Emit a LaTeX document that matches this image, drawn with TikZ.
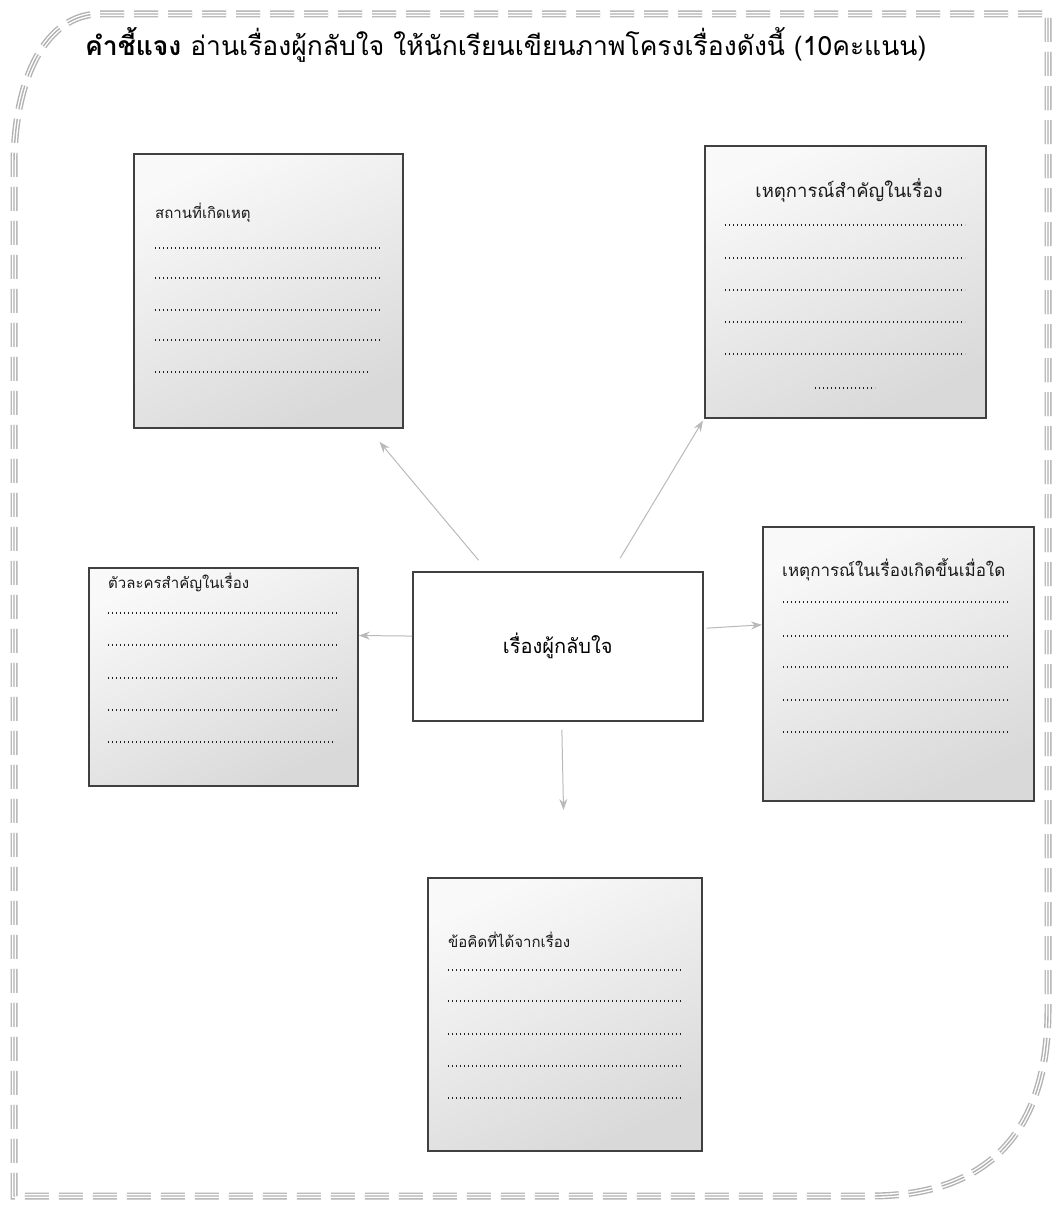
\documentclass[tikz,border=0pt]{standalone}
\usepackage{fontspec}
\setmainfont[Script=Thai]{Loma}
\usetikzlibrary{arrows.meta,positioning}
\tikzset{
  card/.style={draw=gray!50!black, line width=1.8pt, inner sep=0pt, anchor=north west,
    top color=gray!5, bottom color=gray!30, shading angle=25},
  hub/.style={draw=gray!50!black, line width=1.5pt, inner sep=0pt, anchor=north west, fill=white},
  dotrow/.style={line width=1.5pt, dash pattern=on 1.4pt off 2.6pt, gray!25!black},
  link/.style={draw=gray!55, line width=1pt, -{Stealth[length=11pt,width=8pt]}},
  rimout/.style={line width=7pt, gray!60, dash pattern=on 24pt off 10pt},
  rimgap/.style={line width=4.2pt, white, dash pattern=on 24pt off 10pt},
  rimmid/.style={line width=1.4pt, gray!60, dash pattern=on 24pt off 10pt},
  cardtitle/.style={anchor=west, inner sep=0pt, text=gray!20!black}
}
\begin{document}
\begin{tikzpicture}[x=1pt,y=-1pt]
\useasboundingbox (0,0) rectangle (1058,1207);
% dashed frame
\foreach \s in {rimout,rimgap,rimmid}
  \draw[\s] (100,14) -- (1048,14) -- (1048,1010) .. controls (1048,1140) and (980,1196) .. (870,1196)
    -- (14,1196) -- (14,165) .. controls (14,80) and (45,14) .. (100,14);
% heading
\node[anchor=west, inner sep=0pt] (heading) at (85,45)
  {\fontsize{26.5}{30}\selectfont\textbf{คำชี้แจง} อ่านเรื่องผู้กลับใจ ให้นักเรียนเขียนภาพโครงเรื่องดังนี้ (10คะแนน)};
% boxes
\node[card, minimum width=269pt, minimum height=274pt] (place) at (133,153) {};
\node[card, minimum width=281pt, minimum height=272pt] (events) at (704,145) {};
\node[card, minimum width=269pt, minimum height=218pt] (chars) at (88,567) {};
\node[card, minimum width=271pt, minimum height=274pt] (when) at (762,526) {};
\node[card, minimum width=274pt, minimum height=273pt] (moral) at (427,877) {};
\node[hub, minimum width=290pt, minimum height=149pt] (centre) at (412,571) {};
\node (story) at (centre.center) {\fontsize{20}{24}\selectfont เรื่องผู้กลับใจ};
% titles
\node[cardtitle] (placetitle) at (155,213) {\fontsize{15}{18}\selectfont สถานที่เกิดเหตุ};
\node[cardtitle, anchor=center] (eventstitle) at (849,190) {\fontsize{18.5}{22}\selectfont เหตุการณ์สำคัญในเรื่อง};
\node[cardtitle] (charstitle) at (108,582) {\fontsize{15}{18}\selectfont ตัวละครสำคัญในเรื่อง};
\node[cardtitle] (whentitle) at (782,570) {\fontsize{17}{20}\selectfont เหตุการณ์ในเรื่องเกิดขึ้นเมื่อใด};
\node[cardtitle] (moraltitle) at (448,940) {\fontsize{15}{18}\selectfont ข้อคิดที่ได้จากเรื่อง};
% dotted lines
\foreach \y in {248,278,310,340} \draw[dotrow] (155,\y) -- (380,\y);
\draw[dotrow] (155,372) -- (370,372);
\foreach \y in {225,258,290,322,354} \draw[dotrow] (725,\y) -- (965,\y);
\draw[dotrow] (815,388) -- (875,388);
\foreach \y in {613,645,678,710} \draw[dotrow] (108,\y) -- (337,\y);
\draw[dotrow] (108,742) -- (333,742);
\foreach \y in {602,636,667,700,732} \draw[dotrow] (783,\y) -- (1010,\y);
\foreach \y in {970,1001,1034,1066,1098} \draw[dotrow] (448,\y) -- (682,\y);
% connectors
\draw[link, shorten <=14pt, shorten >=17pt] (centre.133.2) -- (place.-54.3);
\draw[link, shorten <=15pt, shorten >=2pt] (centre.54.6) -- (events.south west);
\draw[link] (centre.176) -- (chars.17);
\draw[link, shorten <=3pt] (centre.7.7) -- (when.164.7);
\draw[link, shorten <=8pt, shorten >=67pt] (centre.-87) -- (moral.north);
\end{tikzpicture}
\end{document}
